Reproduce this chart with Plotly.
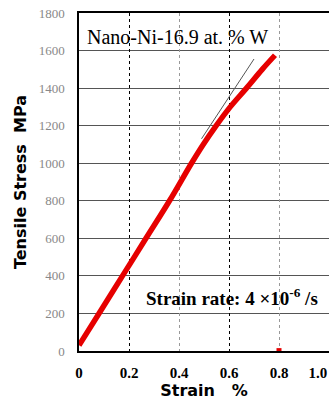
import plotly.graph_objects as go

strain = [0.0, 0.08, 0.174, 0.268, 0.362, 0.45, 0.497, 0.546, 0.605, 0.67, 0.733, 0.784]
stress = [30, 200, 400, 600, 800, 1000, 1100, 1195, 1300, 1400, 1500, 1575]

# elastic fit line (visible part)
fit_strain = [0.49, 0.70]
fit_stress = [1130, 1555]

# stray point after fracture
tail_strain = [0.79, 0.81]
tail_stress = [2, 2]

x_ticks = [0, 0.2, 0.4, 0.6, 0.8, 1.0]
x_labels = ["0", "0.2", "0.4", "0.6", "0.8", "1.0&nbsp;&nbsp;&nbsp;&nbsp;&nbsp;&nbsp;"]
y_ticks = [0, 200, 400, 600, 800, 1000, 1200, 1400, 1600, 1800]

fig = go.Figure()
fig.add_trace(go.Scatter(x=fit_strain, y=fit_stress, mode="lines",
                         line=dict(color="#555555", width=1), showlegend=False))
fig.add_trace(go.Scatter(x=strain, y=stress, mode="lines",
                         line=dict(color="#e60000", width=5.5, shape="spline", smoothing=1.0),
                         showlegend=False))
fig.add_trace(go.Scatter(x=tail_strain, y=tail_stress, mode="lines",
                         line=dict(color="#e60000", width=5), showlegend=False, cliponaxis=False))

# invisible traces to activate overlay axes
fig.add_trace(go.Scatter(x=[0], y=[0], xaxis="x2", mode="markers", marker=dict(opacity=0), showlegend=False, hoverinfo="skip"))
fig.add_trace(go.Scatter(x=[0], y=[0], xaxis="x3", mode="markers", marker=dict(opacity=0), showlegend=False, hoverinfo="skip"))

fig.update_layout(
    width=329, height=400,
    margin=dict(l=79, r=0, t=13, b=49, autoexpand=False),
    plot_bgcolor="white", paper_bgcolor="white",
    xaxis=dict(range=[0, 1.0], tickvals=x_ticks, ticktext=x_labels, showgrid=False,
               showline=True, linecolor="black", linewidth=1.5, mirror=True, automargin=False,
               ticks="", zeroline=False, ticklabeloverflow="allow", ticklabelstandoff=7,
               tickfont=dict(family="Liberation Serif", size=15, color="black", weight="bold"),
               title=dict(text="Strain   %", standoff=6,
                          font=dict(family="DejaVu Sans", size=16, color="black", weight="bold"))),
    xaxis2=dict(range=[0, 1.0], overlaying="x", tickvals=[0.2, 0.6], showticklabels=False,
                showgrid=True, gridcolor="black", griddash="dot", gridwidth=1, zeroline=False, ticks=""),
    xaxis3=dict(range=[0, 1.0], overlaying="x", tickvals=[0.4, 0.8], showticklabels=False,
                showgrid=True, gridcolor="#999999", griddash="dot", gridwidth=1, zeroline=False, ticks=""),
    yaxis=dict(range=[0, 1800], tickvals=y_ticks, showgrid=True, gridcolor="#555555", gridwidth=1,
               showline=True, linecolor="black", linewidth=1.5, zeroline=False, ticks="",
               ticklabelstandoff=10, automargin=False,
               tickfont=dict(family="Liberation Serif", size=13, color="#888888"),
               title=dict(text="Tensile Stress  MPa", standoff=8,
                          font=dict(family="DejaVu Sans", size=16, color="black", weight="bold"))),
    annotations=[
        dict(x=0.024, y=1672, xref="x", yref="y", xanchor="left", yanchor="middle",
             text="Nano-Ni-16.9 at. % W", showarrow=False,
             font=dict(family="Liberation Serif", size=20, color="black")),
        dict(x=0.965, y=290, xref="x", yref="y", xanchor="right", yanchor="middle",
             text="Strain rate: 4 ×10<sup>-6</sup> /s", showarrow=False,
             font=dict(family="Liberation Serif", size=19, color="black", weight="bold")),
    ],
)

fig.write_html("out.html")
